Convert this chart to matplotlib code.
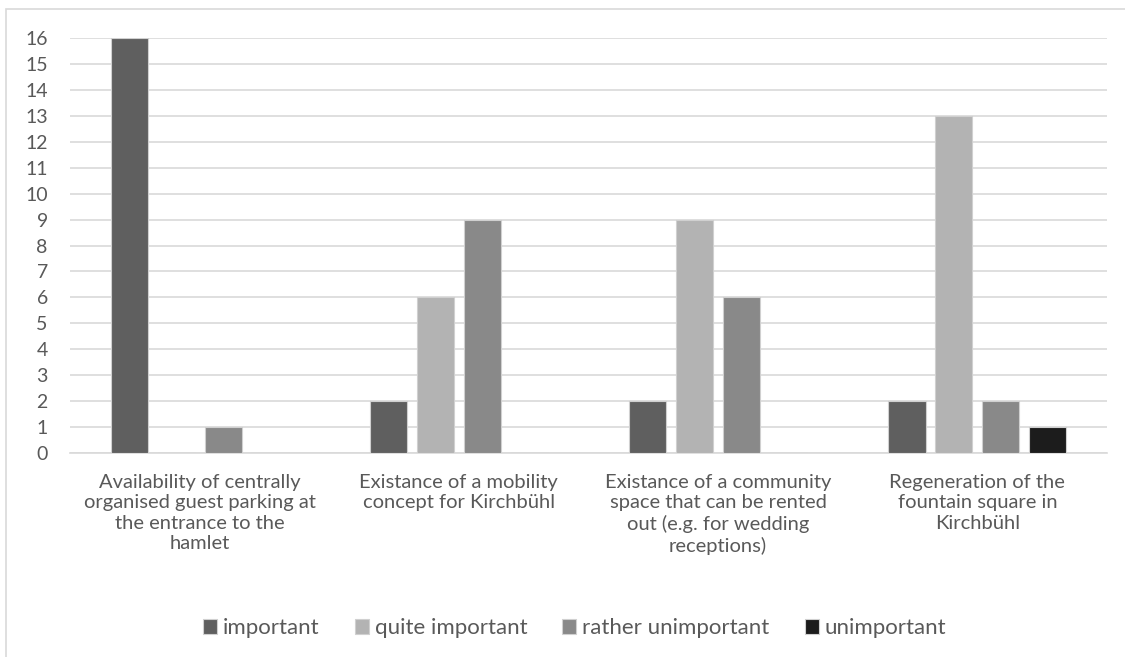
import matplotlib
matplotlib.use("Agg")
import matplotlib.pyplot as plt
from matplotlib.patches import Rectangle
import numpy as np

# data
categories = [
    "Availability of centrally\norganised guest parking at\nthe entrance to the\nhamlet",
    "Existance of a mobility\nconcept for Kirchbühl",
    "Existance of a community\nspace that can be rented\nout (e.g. for wedding\nreceptions)",
    "Regeneration of the\nfountain square in\nKirchbühl",
]
series_names = ["important", "quite important", "rather unimportant", "unimportant"]
important = [16, 2, 2, 2]
quite_important = [0, 6, 9, 13]
rather_unimportant = [1, 9, 6, 2]
unimportant = [0, 0, 0, 1]
colors = ["#5f5f5f", "#b3b3b3", "#898989", "#1c1c1c"]

plt.rcParams['font.family'] = ['Lato', 'DejaVu Sans']
txt = "#595959"

fig = plt.figure(figsize=(11.25, 6.57), dpi=100)
ax = fig.add_axes([0.0622, 0.3105, 0.9218, 0.6315])

x = np.arange(len(categories))
w = 0.143
step = 0.181
all_series = [important, quite_important, rather_unimportant, unimportant]
for i, (vals, name) in enumerate(zip(all_series, series_names)):
    ax.bar(x + (i - 1.5) * step, vals, width=w, color=colors[i], label=name,
           edgecolor="#d0d0d0", linewidth=0.8, zorder=3)

ax.set_xlim(-0.5, 3.5)
ax.set_ylim(0, 16)
ax.set_yticks(range(0, 17))
ax.yaxis.grid(True, color="#d9d9d9", linewidth=1.2, zorder=0)
for s in ["top", "right", "left"]:
    ax.spines[s].set_visible(False)
ax.spines["bottom"].set_color("#d9d9d9")
ax.spines["bottom"].set_linewidth(1.2)
ax.tick_params(axis="y", length=0, labelsize=14, labelcolor=txt, pad=16)
ax.tick_params(axis="x", length=0, labelsize=14.5, labelcolor=txt, pad=15)
ax.set_xticks(x)
ax.set_xticklabels(categories, linespacing=1.25)

leg = fig.legend(loc="center", bbox_to_anchor=(0.5107, 0.044), ncol=4, frameon=False,
                 fontsize=16, handlelength=0.63, handleheight=0.63, handletextpad=0.27,
                 columnspacing=1.58)
for t in leg.get_texts():
    t.set_color(txt)

fig.patches.append(Rectangle((6 / 1125, -0.01), 1.02, 1 - 9 / 657 + 0.01,
                             transform=fig.transFigure, fill=False,
                             edgecolor="#d9d9d9", linewidth=1.2))

fig.savefig("out.png", dpi=100)
